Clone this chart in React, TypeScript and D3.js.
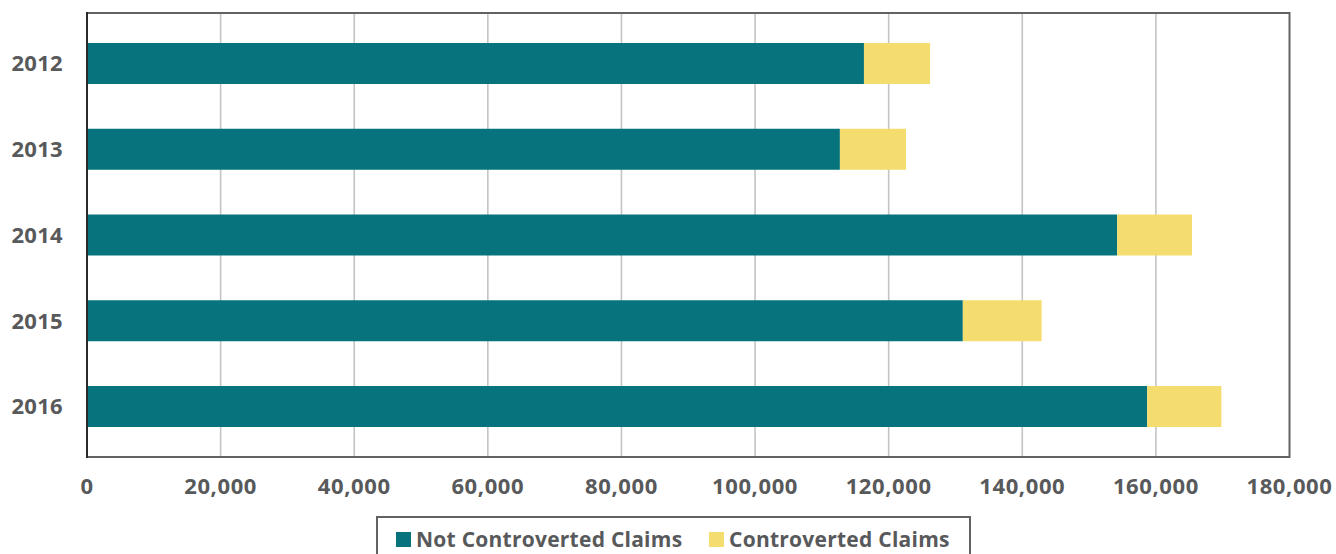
import React from "react";
import * as d3 from "d3";

const years = ["2012", "2013", "2014", "2015", "2016"];
const notControverted = [116300, 112700, 154200, 131100, 158700];
const controverted = [9900, 9900, 11200, 11800, 11100];
const xTicks = [0, 20000, 40000, 60000, 80000, 100000, 120000, 140000, 160000, 180000];
const seriesNames = ["Not Controverted Claims", "Controverted Claims"];
const seriesColors = ["#06737D", "#F5DC6E"];

const W = 1336;
const H = 554;
const L = 87;
const R = 1289.5;
const T = 13;
const B = 457;
const TEXT = "#58595B";
const FONT = "'Open Sans', Lato, sans-serif";

export default function App() {
  const rows = years.map((y, i) => ({ year: y, a: notControverted[i], b: controverted[i] }));
  const stack = d3.stack<any>().keys(["a", "b"])(rows);
  const x = d3.scaleLinear().domain([0, 180000]).range([L, R]);
  const y = d3.scaleBand().domain(years).range([T, B]).paddingInner(0.522).paddingOuter(0.35);
  const fmt = d3.format(",");

  return (
    <svg width={W} height={H} style={{ position: "absolute", left: 0, top: 0 }} fontFamily={FONT}>
      <rect x={0} y={0} width={W} height={H} fill="#fff" />
      {xTicks.slice(1, -1).map((t) => (
        <line key={t} x1={x(t)} x2={x(t)} y1={T} y2={B} stroke="#C4C4C4" strokeWidth={1.6} />
      ))}
      {stack.map((s, si) =>
        s.map((d, i) => (
          <rect
            key={si + "-" + i}
            x={x(d[0])}
            y={y(years[i])}
            width={x(d[1]) - x(d[0])}
            height={y.bandwidth()}
            fill={seriesColors[si]}
          />
        ))
      )}
      <rect x={L} y={T} width={R - L} height={B - T} fill="none" stroke="#626262" strokeWidth={2} />
      <line x1={L} x2={L} y1={T - 1} y2={B + 1} stroke="#2A2A2A" strokeWidth={2} />
      {years.map((yr) => (
        <text
          key={yr}
          x={63}
          y={(y(yr) as number) + y.bandwidth() / 2}
          dy="0.36em"
          textAnchor="end"
          fontSize={22}
          fontWeight={700}
          fill={TEXT}
          letterSpacing={0.3}
        >
          {yr}
        </text>
      ))}
      {xTicks.map((t) => (
        <text key={t} x={x(t)} y={494} textAnchor="middle" fontSize={22} fontWeight={700} fill={TEXT} letterSpacing={0.6}>
          {fmt(t)}
        </text>
      ))}
      <rect x={377} y={517} width={593} height={60} fill="#fff" stroke="#626262" strokeWidth={2} />
      {seriesNames.map((n, i) => {
        const sx = i === 0 ? 396 : 709;
        return (
          <g key={n}>
            <rect x={sx} y={532} width={15} height={15} fill={seriesColors[i]} />
            <text x={sx + 20} y={547} fontSize={21} fontWeight={700} fill={TEXT} letterSpacing={0.25}>
              {n}
            </text>
          </g>
        );
      })}
    </svg>
  );
}
